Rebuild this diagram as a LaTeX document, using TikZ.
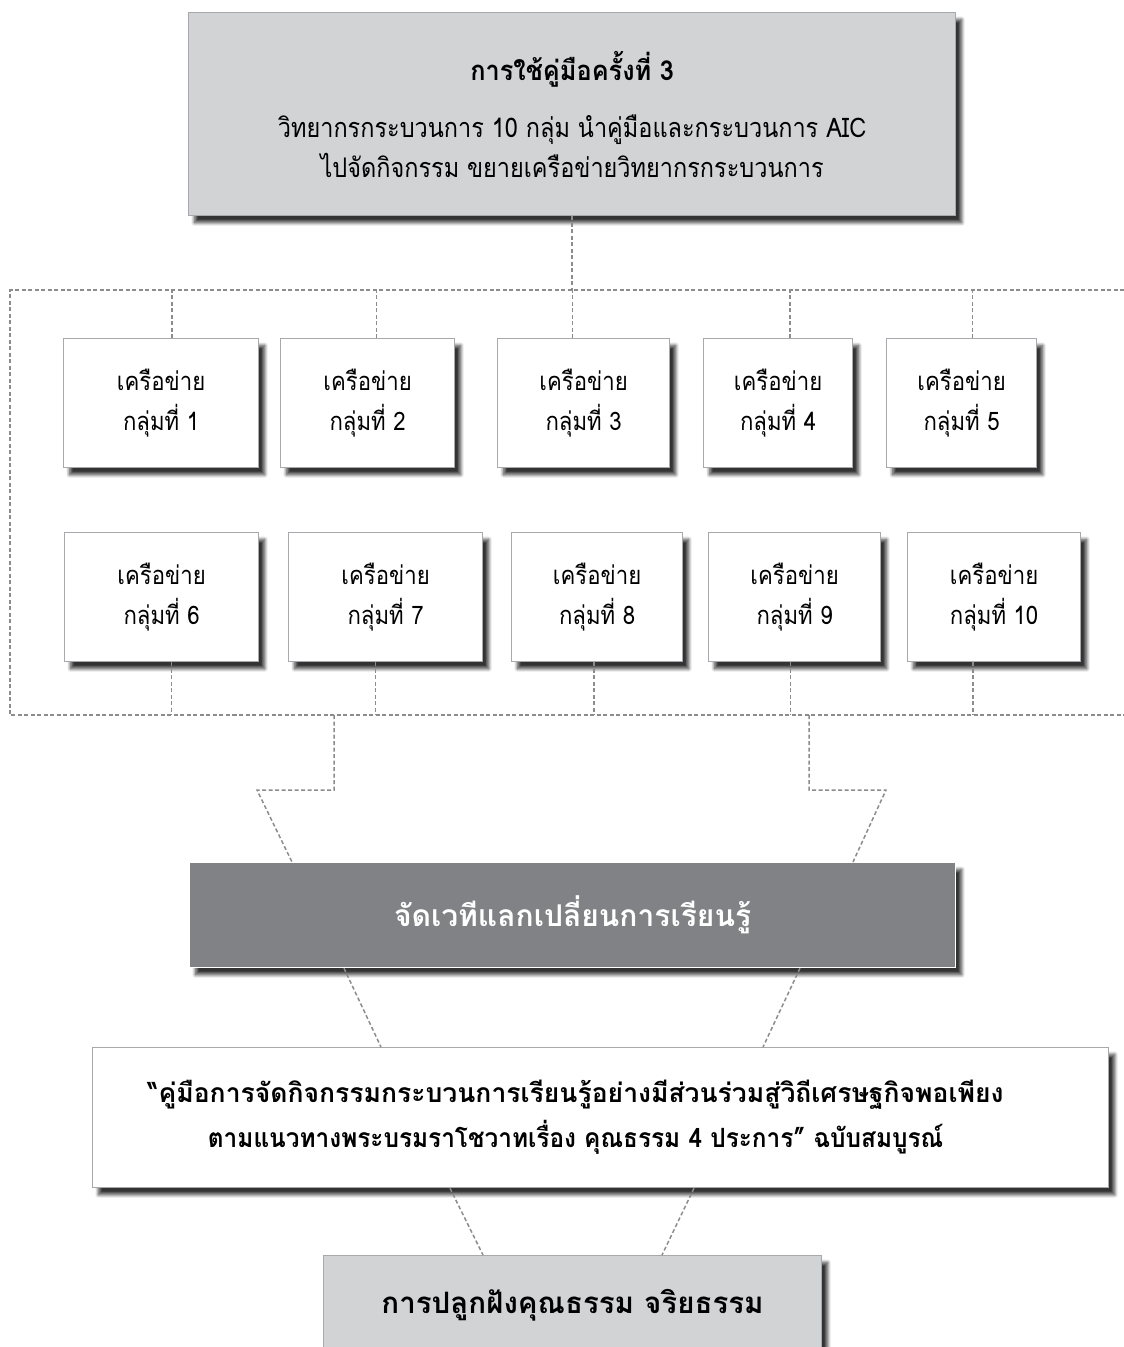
\documentclass[tikz,border=0pt]{standalone}
\usepackage{fontspec}
\newfontfamily\thai[Script=Thai]{Loma}
\newfontfamily\thain[Script=Thai,FakeStretch=0.87]{Loma}
\newfontfamily\thait[Script=Thai,FakeStretch=0.92]{Loma}
\usetikzlibrary{shadows.blur,calc}
\definecolor{lgray}{HTML}{D1D3D4}
\definecolor{dgray}{HTML}{808285}
\definecolor{bordergray}{HTML}{A7A9AC}
\definecolor{dashgray}{HTML}{8C8C8C}
\begin{document}
\begin{tikzpicture}[x=1pt,y=-1pt,
  shade/.style={blur shadow={shadow xshift=6pt,shadow yshift=-7pt,shadow blur radius=3.5pt,shadow blur steps=8,shadow opacity=80}},
  boxbase/.style={draw=bordergray,line width=1.2pt,shade,align=center,inner sep=0pt,anchor=north west},
  netbox/.style={boxbase,fill=white,minimum height=129pt,font=\thain\fontsize{25.5}{40}\selectfont},
  conn/.style={draw=dashgray,line width=1.5pt,dash pattern=on 4pt off 2.5pt},
]
\useasboundingbox (0,0) rectangle (1124,1347);

% top box
\node[boxbase,fill=lgray,minimum width=767pt,minimum height=203pt,font=\thain\fontsize{27}{40}\selectfont] (top) at (188,12)
  {{\thait\bfseries\fontsize{27.5}{30}\selectfont การใช้คู่มือครั้งที่ 3}\\[17pt]
   วิทยากรกระบวนการ 10 กลุ่ม นำคู่มือและกระบวนการ AIC\\
   ไปจัดกิจกรรม ขยายเครือข่ายวิทยากรกระบวนการ};

% network boxes
\node[netbox,minimum width=195pt] (b1) at (63,338) {เครือข่าย\\กลุ่มที่ 1};
\node[netbox,minimum width=174pt] (b2) at (280,338) {เครือข่าย\\กลุ่มที่ 2};
\node[netbox,minimum width=172pt] (b3) at (497,338) {เครือข่าย\\กลุ่มที่ 3};
\node[netbox,minimum width=149pt] (b4) at (703,338) {เครือข่าย\\กลุ่มที่ 4};
\node[netbox,minimum width=150pt] (b5) at (886,338) {เครือข่าย\\กลุ่มที่ 5};
\node[netbox,minimum width=194pt] (b6) at (64,532) {เครือข่าย\\กลุ่มที่ 6};
\node[netbox,minimum width=194pt] (b7) at (288,532) {เครือข่าย\\กลุ่มที่ 7};
\node[netbox,minimum width=171pt] (b8) at (511,532) {เครือข่าย\\กลุ่มที่ 8};
\node[netbox,minimum width=172pt] (b9) at (708,532) {เครือข่าย\\กลุ่มที่ 9};
\node[netbox,minimum width=173pt] (b10) at (907,532) {เครือข่าย\\กลุ่มที่ 10};

% dark box
\node[boxbase,draw=white,fill=dgray,minimum width=766pt,minimum height=105pt,text=white,font=\thai\bfseries\fontsize{30}{34}\selectfont] (dark) at (189,862)
  {จัดเวทีแลกเปลี่ยนการเรียนรู้};

% middle box
\node[boxbase,fill=white,minimum width=1016pt,minimum height=140pt,font=\thai\bfseries\fontsize{26.5}{45}\selectfont] (mid) at (92,1047)
  {“คู่มือการจัดกิจกรรมกระบวนการเรียนรู้อย่างมีส่วนร่วมสู่วิถีเศรษฐกิจพอเพียง\hspace*{50pt}\\
   {\thait\bfseries ตามแนวทางพระบรมราโชวาทเรื่อง คุณธรรม 4 ประการ” ฉบับสมบูรณ์}\hspace*{50pt}};

% bottom box
\node[boxbase,fill=lgray,minimum width=498pt,minimum height=100pt,font=\thai\bfseries\fontsize{29.5}{34}\selectfont] (bot) at (323,1255)
  {การปลูกฝังคุณธรรม จริยธรรม};

% connectors
\coordinate (hl) at (10,290);
\coordinate (hr) at (1124,290);
\coordinate (bl) at (10,715);
\coordinate (br) at (1124,715);
\draw[conn] (top.south) -- (top.south |- hl);
\draw[conn] (hr) -- (hl) -- (bl) -- (br);
\foreach \b/\dx in {b1/11,b2/9,b3/-11,b4/12,b5/11}{
  \path ($(\b.north)+(\dx,0)$) coordinate (t);
  \draw[conn] (t) -- (t |- hl);
}
\foreach \b/\dx in {b6/10,b7/-10,b8/-3,b9/-4,b10/-21}{
  \path ($(\b.south)+(\dx,0)$) coordinate (t);
  \draw[conn] (t) -- (t |- bl);
}
\coordinate (dl1) at (334,715);
\coordinate (dl2) at (334,790);
\coordinate (dl3) at (257,790);
\coordinate (dr1) at (809,715);
\coordinate (dr2) at (809,790);
\coordinate (dr3) at (886,790);
\draw[conn] (dl1) -- (dl2) -- (dl3) -- ($(dark.north west)+(103,0)$);
\draw[conn] (dr1) -- (dr2) -- (dr3) -- ($(dark.north west)+(664,0)$);
\draw[conn] ($(dark.south west)+(155,0)$) -- ($(mid.north west)+(289,0)$);
\draw[conn] ($(dark.south west)+(611,0)$) -- ($(mid.north west)+(671,0)$);
\draw[conn] ($(mid.south west)+(358,0)$) -- ($(bot.north west)+(160,0)$);
\draw[conn] ($(mid.south west)+(602,0)$) -- ($(bot.north west)+(339,0)$);
\end{tikzpicture}
\end{document}
